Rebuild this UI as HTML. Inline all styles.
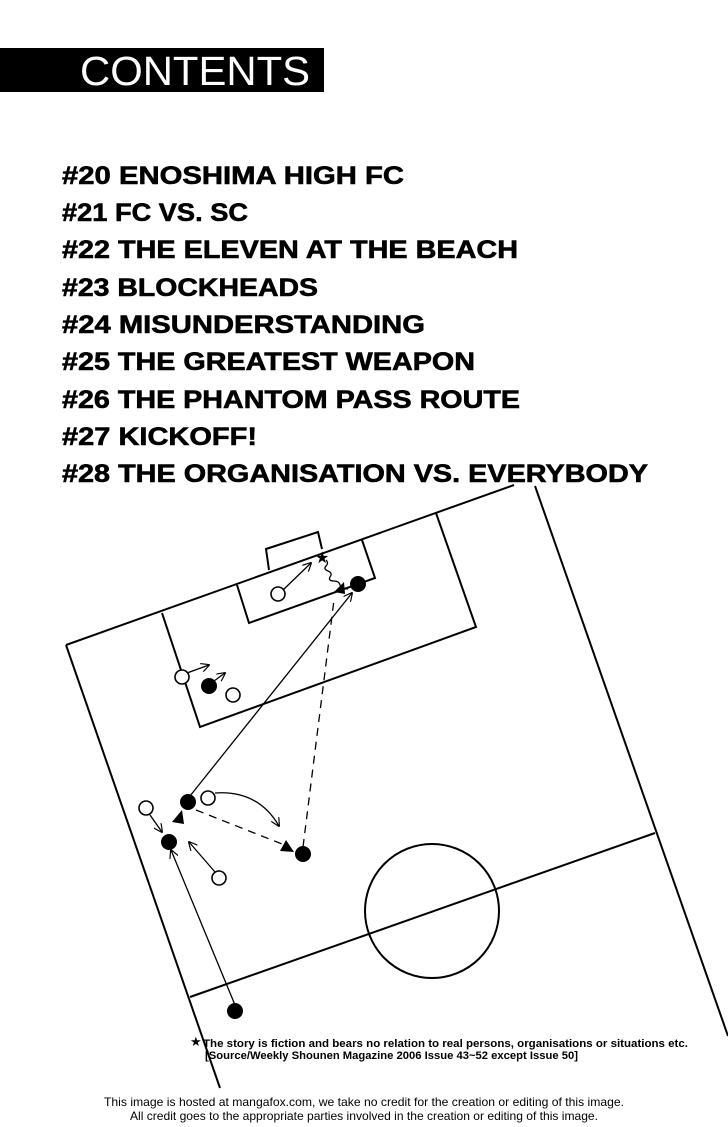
<!DOCTYPE html>
<html><head><meta charset="utf-8"><style>
html,body{margin:0;padding:0;background:#fff;}
svg{display:block;}
</style></head><body>
<svg width="728" height="1127" viewBox="0 0 728 1127" xmlns="http://www.w3.org/2000/svg">
<defs>
<marker id="oa" viewBox="0 0 10 10" refX="9" refY="5" markerWidth="9" markerHeight="9" markerUnits="userSpaceOnUse" orient="auto"><path d="M0,0 L10,5 L0,10" fill="none" stroke="#000" stroke-width="1.3"/></marker>
</defs>
<rect width="728" height="1127" fill="#fff"/>
<rect x="0" y="48" width="324" height="44" fill="#000"/>
<text x="80" y="85" font-family="Liberation Sans, sans-serif" font-size="41" fill="#fff" textLength="230" lengthAdjust="spacingAndGlyphs">CONTENTS</text>
<g font-family="Liberation Sans, sans-serif" font-weight="bold" font-size="25" fill="#000" stroke="#000" stroke-width="0.6">
<text x="62" y="184" textLength="342" lengthAdjust="spacingAndGlyphs">#20 ENOSHIMA HIGH FC</text>
<text x="62" y="221" textLength="186" lengthAdjust="spacingAndGlyphs">#21 FC VS. SC</text>
<text x="62" y="258" textLength="456" lengthAdjust="spacingAndGlyphs">#22 THE ELEVEN AT THE BEACH</text>
<text x="62" y="296" textLength="256" lengthAdjust="spacingAndGlyphs">#23 BLOCKHEADS</text>
<text x="62" y="333" textLength="363" lengthAdjust="spacingAndGlyphs">#24 MISUNDERSTANDING</text>
<text x="62" y="370" textLength="413" lengthAdjust="spacingAndGlyphs">#25 THE GREATEST WEAPON</text>
<text x="62" y="408" textLength="458" lengthAdjust="spacingAndGlyphs">#26 THE PHANTOM PASS ROUTE</text>
<text x="62" y="445" textLength="195" lengthAdjust="spacingAndGlyphs">#27 KICKOFF!</text>
<text x="62" y="482" textLength="586" lengthAdjust="spacingAndGlyphs">#28 THE ORGANISATION VS. EVERYBODY</text>
</g>
<g fill="none" stroke="#000" stroke-width="2">
<line x1="66" y1="645" x2="514" y2="485"/>
<line x1="535" y1="486" x2="728" y2="1036"/>
<line x1="66" y1="645" x2="220" y2="1088"/>
<line x1="190" y1="997" x2="655" y2="833"/>
<circle cx="432" cy="911" r="67"/>
<polyline points="162,613 200,727 476,627 436,513"/>
<polyline points="237,585 249,623 375,578 362,540"/>
<polyline points="269,570 266,549 318,532 322,549"/>
</g>
<g stroke="#000" stroke-width="1.3" fill="none">
<line x1="283" y1="590" x2="311" y2="563" marker-end="url(#oa)"/>
<line x1="187" y1="673" x2="209" y2="665" marker-end="url(#oa)"/>
<line x1="214" y1="681" x2="225" y2="673" marker-end="url(#oa)"/>
<line x1="190" y1="796" x2="352" y2="593" marker-end="url(#oa)"/>
<line x1="303" y1="847" x2="334" y2="600" stroke-dasharray="8,6"/>
<line x1="196" y1="810" x2="282" y2="844" stroke-dasharray="8,6"/>
<path d="M215,793 Q258,790 279,826" marker-end="url(#oa)"/>
<line x1="150" y1="815" x2="162" y2="832" marker-end="url(#oa)"/>
<line x1="215" y1="872" x2="189" y2="842" marker-end="url(#oa)"/>
<line x1="235" y1="1005" x2="171" y2="850" marker-end="url(#oa)"/>
<path d="M326,560 q3,3 0,6 q-3,3 2,5 q5,2 2,6 q-2,4 4,4 q5,0 6,4 q2,4 8,4"/>
</g>
<polygon points="334,592 344,582 345,594" fill="#000"/>
<polygon points="172,822 182,810 184,824" fill="#000"/>
<polygon points="280,851 286,840 294,852" fill="#000"/>
<text x="315" y="563" font-size="16" font-family="DejaVu Sans, sans-serif">★</text>
<g fill="#000">
<circle cx="358" cy="584" r="8"/>
<circle cx="209" cy="686" r="8"/>
<circle cx="188" cy="802" r="8"/>
<circle cx="169" cy="842" r="8"/>
<circle cx="303" cy="854" r="8"/>
<circle cx="235" cy="1011" r="8"/>
</g>
<g fill="#fff" stroke="#000" stroke-width="1.6">
<circle cx="278" cy="594" r="7"/>
<circle cx="182" cy="677" r="7"/>
<circle cx="233" cy="695" r="7"/>
<circle cx="208" cy="798" r="7"/>
<circle cx="146" cy="808" r="7"/>
<circle cx="219" cy="878" r="7"/>
</g>
<g font-family="Liberation Sans, DejaVu Sans, sans-serif" font-weight="bold" font-size="11" fill="#000">
<text x="190" y="1046" font-size="13" font-family="DejaVu Sans, sans-serif">★</text>
<text x="203" y="1047" textLength="485" lengthAdjust="spacingAndGlyphs">The story is fiction and bears no relation to real persons, organisations or situations etc.</text>
<text x="205" y="1059" textLength="373" lengthAdjust="spacingAndGlyphs">[Source/Weekly Shounen Magazine 2006 Issue 43~52 except Issue 50]</text>
</g>
<g font-family="Liberation Sans, sans-serif" font-size="12" fill="#000">
<text x="104" y="1106" textLength="520" lengthAdjust="spacingAndGlyphs">This image is hosted at mangafox.com, we take no credit for the creation or editing of this image.</text>
<text x="130" y="1120" textLength="468" lengthAdjust="spacingAndGlyphs">All credit goes to the appropriate parties involved in the creation or editing of this image.</text>
</g>
</svg>
</body></html>
